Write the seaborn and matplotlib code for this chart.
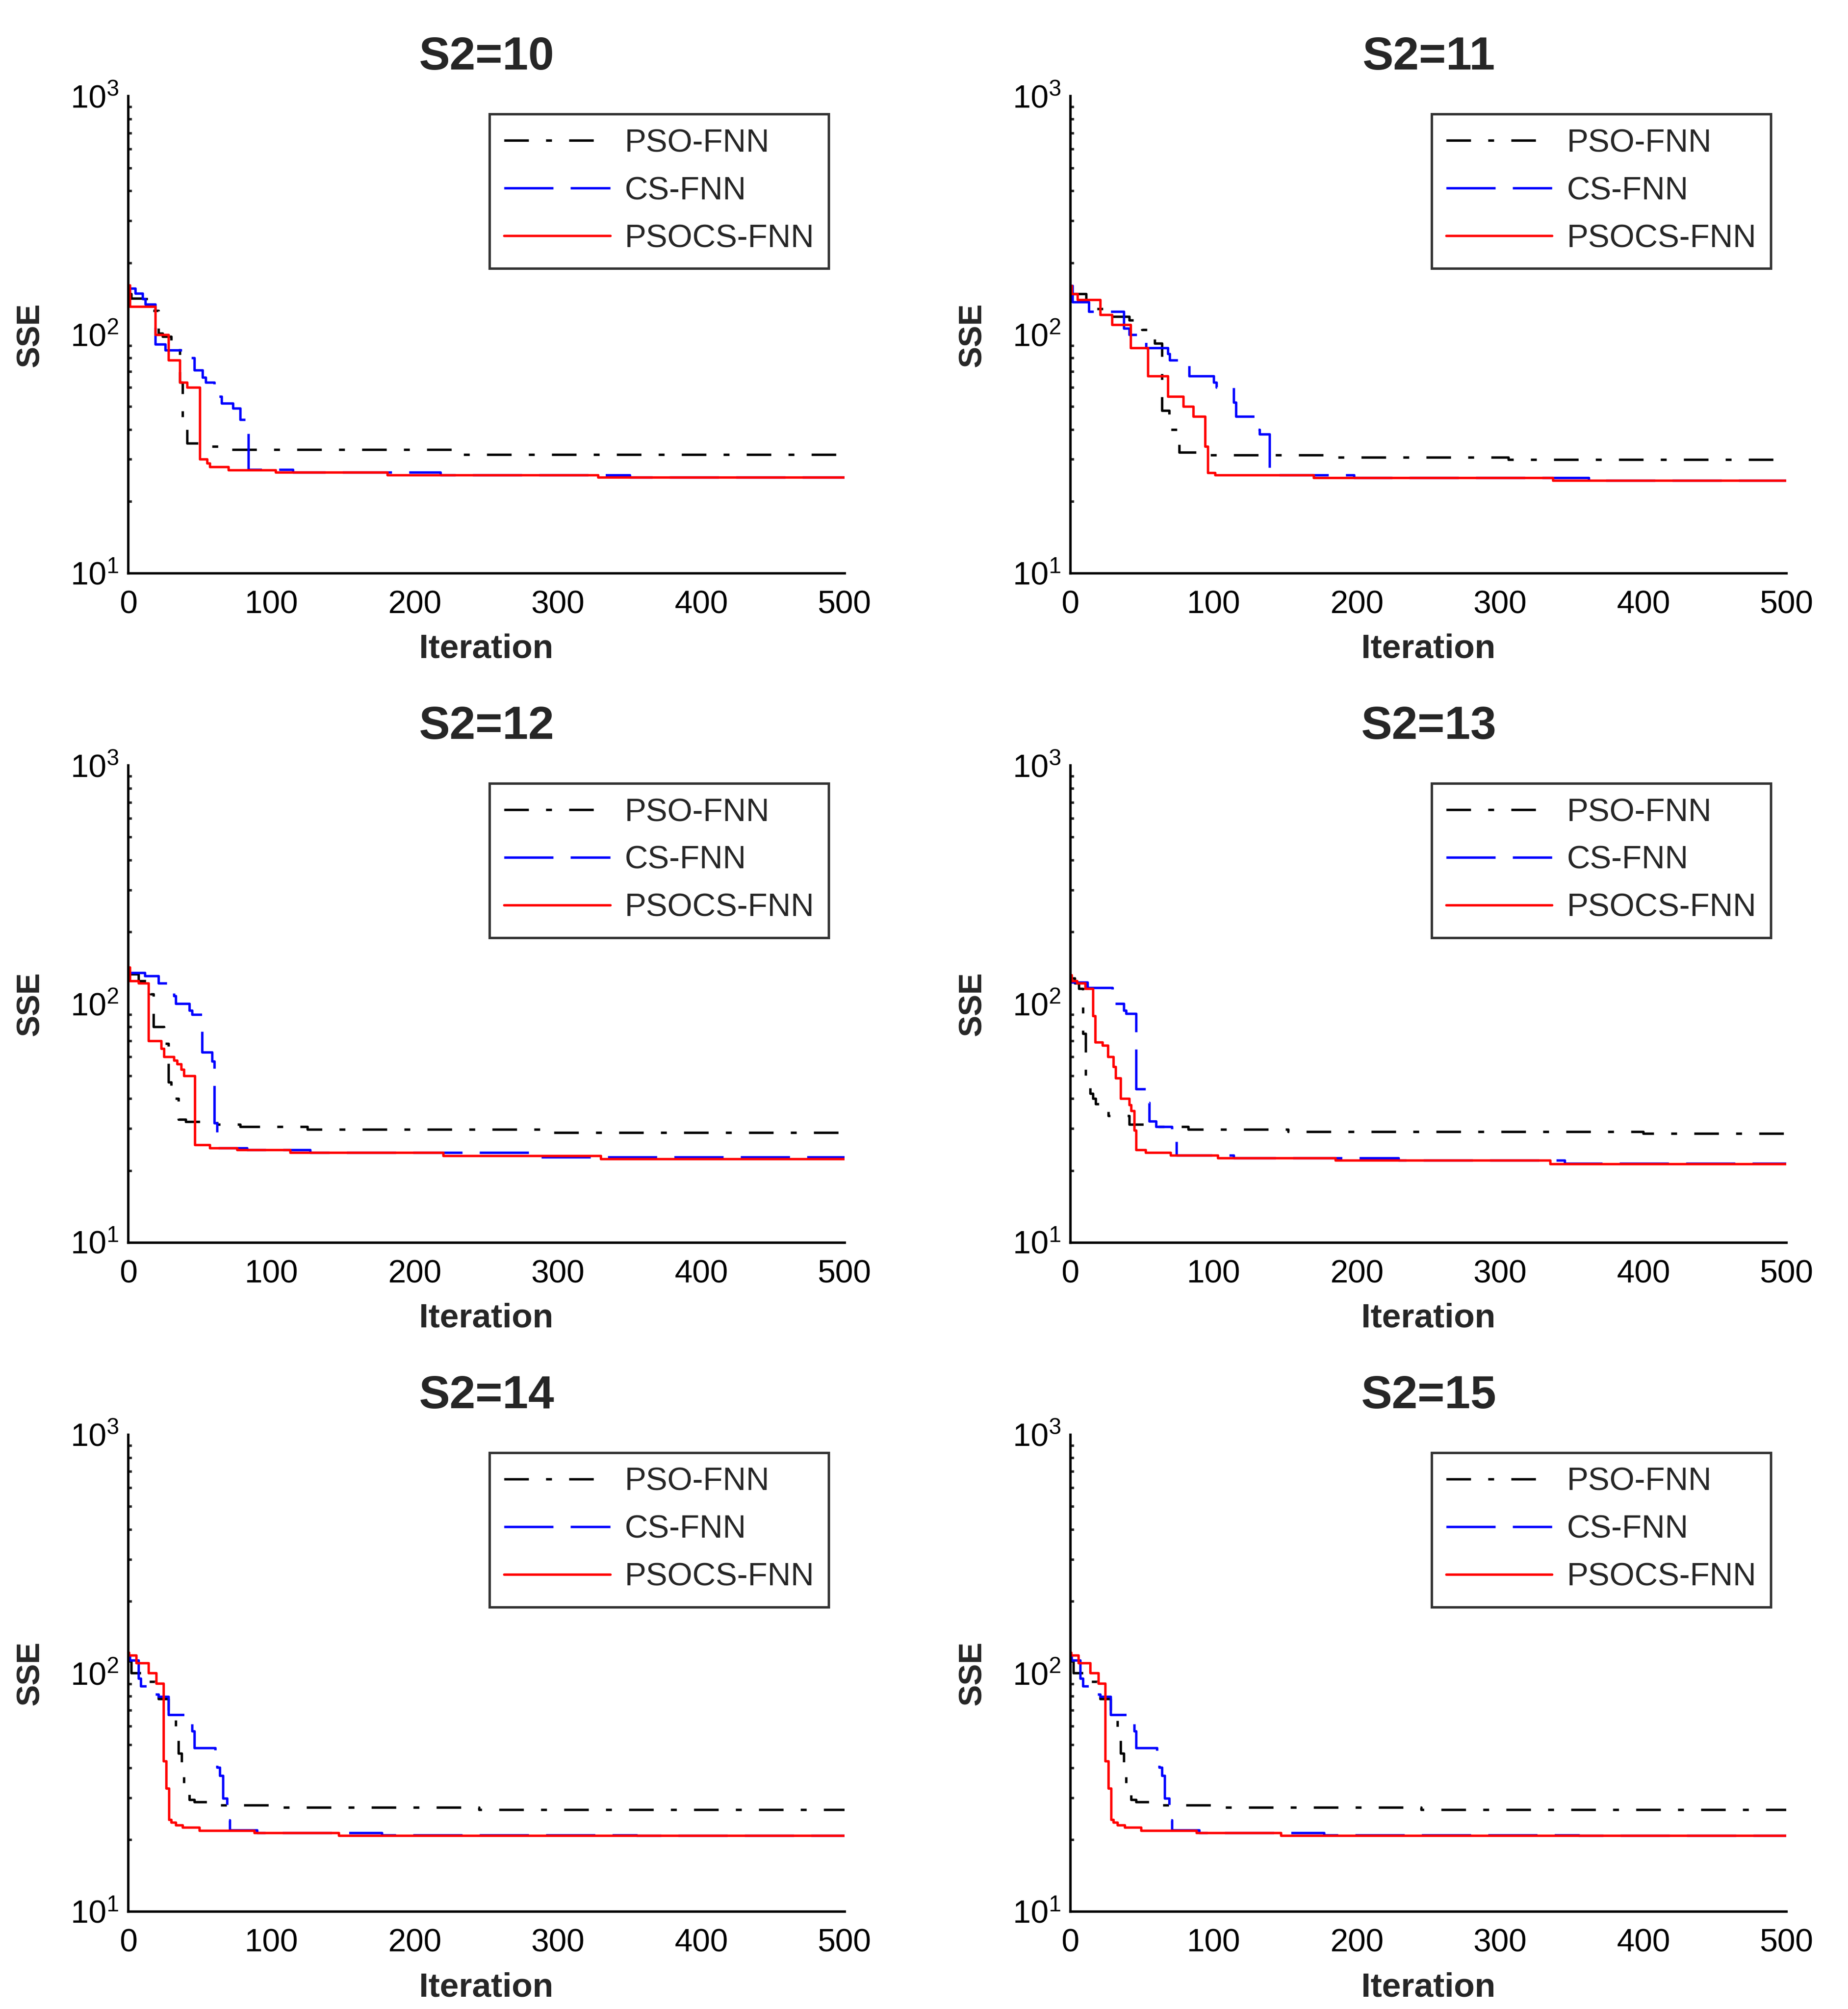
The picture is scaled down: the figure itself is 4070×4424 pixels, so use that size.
import numpy as np
import pandas as pd
import seaborn as sns
import matplotlib
matplotlib.use('Agg')
from matplotlib import pyplot as plt
from matplotlib.ticker import FixedLocator, LogLocator, FuncFormatter, NullLocator

titles = ['S2=10', 'S2=11', 'S2=12', 'S2=13', 'S2=14', 'S2=15']
methods = ['PSO-FNN', 'CS-FNN', 'PSOCS-FNN']
colors = {'PSO-FNN': 'black', 'CS-FNN': '#0000ff', 'PSOCS-FNN': '#ff0000'}
dash_seq = {'PSO-FNN': (10, 7, 2.4, 7), 'CS-FNN': (20, 7), 'PSOCS-FNN': None}

# convergence curves (iteration where the best SSE changes, SSE after the change)
# S2=10
pso_x_10 = [0, 2, 10, 15, 21, 24, 30, 36, 38, 41, 54, 70, 232, 500]
pso_y_10 = [148, 142, 141, 126, 101, 98, 87, 63, 45, 35, 33.9, 33, 31.4, 31.4]
cs_x_10 = [0, 5, 10, 12, 19, 26, 40, 46, 52, 54, 60, 65, 73, 78, 84, 115, 218, 350, 500]
cs_y_10 = [156, 149, 141, 134, 91, 86, 80, 71, 66, 63, 55, 51.5, 49, 44, 27.2, 26.4, 25.8, 25.2, 25.2]
psocs_x_10 = [0, 1, 19, 28, 36, 41, 50, 55, 57, 70, 103, 181, 328, 500]
psocs_y_10 = [161, 131, 100, 78, 63, 60, 30, 28.9, 27.9, 27.1, 26.4, 25.8, 25.2, 25.2]

# S2=11
pso_x_11 = [0, 11, 18, 29, 41, 50, 59, 64, 69, 75, 76, 94, 178, 306, 500]
pso_y_11 = [148, 135, 128, 119, 115, 105, 92, 48, 40, 35, 32.1, 31.3, 30.6, 29.9, 29.9]
cs_x_11 = [0, 1.5, 13, 37.5, 41, 53, 68, 69.5, 83, 100, 102, 114, 115.5, 130, 132, 139, 198, 362, 500]
cs_y_11 = [160, 137, 125, 106, 100, 88, 83, 78, 67, 63, 60, 52, 45.4, 40, 38.2, 25.8, 25.1, 24.4, 24.4]
psocs_x_11 = [0, 1, 5, 21, 29, 42, 54, 68, 79, 86, 94, 96, 101, 170, 337, 500]
psocs_y_11 = [160, 148, 140, 121, 110, 88, 67, 55, 50, 45.4, 34, 26.3, 25.8, 25.1, 24.4, 24.4]

# S2=12
pso_x_12 = [0, 7, 15.6, 17.6, 25, 28, 30, 35, 40, 62, 78, 125, 294, 500]
pso_y_12 = [133, 125, 110, 80, 68, 47, 40, 32.8, 32.0, 31.2, 30.5, 29.7, 28.8, 28.8]
cs_x_12 = [0, 11.5, 21, 32, 33, 42.5, 44.5, 51.5, 58.6, 60, 62, 83, 127, 288, 500]
cs_y_12 = [135, 131, 122, 108, 100, 94, 90, 62.7, 57.5, 31.7, 24.9, 24.4, 23.8, 22.8, 22.8]
psocs_x_12 = [0, 1, 7, 14, 23, 25, 32, 34, 37, 39, 46.5, 57, 76, 113, 220, 330, 500]
psocs_y_12 = [142, 125, 122, 70, 65, 60, 58, 56, 53, 50, 25.6, 24.9, 24.4, 23.8, 23.1, 22.4, 22.4]

# S2=13
pso_x_13 = [0, 3, 6, 8.7, 10.7, 14, 15.8, 17.8, 26.5, 41, 55, 82.5, 152, 400, 500]
pso_y_13 = [128, 122, 116, 75, 50, 42, 40, 38, 34, 31.2, 30.5, 29.8, 29.1, 28.6, 28.6]
cs_x_13 = [0, 12, 29.5, 37.4, 39, 46, 53, 55, 60, 71, 74, 114, 229, 345, 500]
cs_y_13 = [123, 117, 100, 94, 91, 44, 38.5, 32.2, 30.5, 27, 23.2, 22.6, 22.1, 21.4, 21.4]
psocs_x_13 = [0, 1, 4.6, 10.3, 15.8, 17.4, 22.4, 26.3, 30, 31.5, 35, 41, 42.5, 44.5, 46, 52.6, 70, 103, 185, 335, 500]
psocs_y_13 = [132, 125, 122, 116, 89, 69, 67, 60, 54.5, 48.8, 40, 37.7, 35.6, 29.5, 24.4, 23.8, 23.2, 22.6, 22.1, 21.3, 21.3]

# S2=14
pso_x_14 = [0, 2, 9, 19, 21, 28, 33, 35, 37.4, 39, 42.5, 46, 64, 106, 245, 500]
pso_y_14 = [112, 100, 92, 83, 77.8, 63.5, 53, 46, 37, 31.5, 29.5, 28.8, 28.0, 27.3, 26.7, 26.7]
cs_x_14 = [0, 1, 7, 8.7, 15.6, 21, 28, 44.5, 46, 60.6, 62, 64, 66, 69, 71, 90, 177, 355, 500]
cs_y_14 = [118.6, 113, 95, 88, 81.6, 79.7, 67, 57, 48.5, 42.3, 40.2, 37.2, 29.9, 24.2, 22.0, 21.4, 20.9, 20.8, 20.8]
psocs_x_14 = [0, 0.6, 5.5, 14, 19.6, 24.5, 26.5, 28.5, 30, 33, 38, 49.5, 88, 147, 500]
psocs_y_14 = [122, 119, 110, 100, 90.5, 42.8, 32.9, 24.3, 23.7, 23.0, 22.5, 21.9, 21.4, 20.8, 20.8]

# S2=15
pso_x_15 = [0, 2, 9, 19, 21, 28, 33, 35, 37.4, 39, 42.5, 46, 64, 106, 245, 500]
pso_y_15 = [112, 100, 92, 83, 77.8, 63.5, 53, 46, 37, 31.5, 29.5, 28.8, 28.0, 27.3, 26.7, 26.7]
cs_x_15 = [0, 1, 7, 8.7, 15.6, 21, 28, 44.5, 46, 60.6, 62, 64, 66, 69, 71, 90, 177, 355, 500]
cs_y_15 = [118.6, 113, 95, 88, 81.6, 79.7, 67, 57, 48.5, 42.3, 40.2, 37.2, 29.9, 24.2, 22.0, 21.4, 20.9, 20.8, 20.8]
psocs_x_15 = [0, 0.6, 5.5, 14, 19.6, 24.5, 26.5, 28.5, 30, 33, 38, 49.5, 88, 147, 500]
psocs_y_15 = [122, 119, 110, 100, 90.5, 42.8, 32.9, 24.3, 23.7, 23.0, 22.5, 21.9, 21.4, 20.8, 20.8]

curves = [
    [(pso_x_10, pso_y_10), (cs_x_10, cs_y_10), (psocs_x_10, psocs_y_10)],
    [(pso_x_11, pso_y_11), (cs_x_11, cs_y_11), (psocs_x_11, psocs_y_11)],
    [(pso_x_12, pso_y_12), (cs_x_12, cs_y_12), (psocs_x_12, psocs_y_12)],
    [(pso_x_13, pso_y_13), (cs_x_13, cs_y_13), (psocs_x_13, psocs_y_13)],
    [(pso_x_14, pso_y_14), (cs_x_14, cs_y_14), (psocs_x_14, psocs_y_14)],
    [(pso_x_15, pso_y_15), (cs_x_15, cs_y_15), (psocs_x_15, psocs_y_15)],
]

sns.set_theme(style='white')
plt.rcParams['font.family'] = ['Liberation Sans', 'DejaVu Sans']
plt.rcParams['mathtext.default'] = 'regular'
plt.rcParams['axes.edgecolor'] = 'black'

fig, axes = plt.subplots(3, 2, figsize=(4070 / 300, 4424 / 300), dpi=300)
fig.subplots_adjust(left=0.0694, right=0.9667, bottom=0.0485, top=0.9522,
                    wspace=0.3154, hspace=0.403)


def log_label(v, pos):
    return r'$\mathregular{10^{%d}}$' % int(round(np.log10(v)))


for ax, title, panel in zip(axes.flat, titles, curves):
    for method, (xs, ys) in zip(methods, panel):
        df = pd.DataFrame({'Iteration': xs, 'SSE': ys})
        sns.lineplot(data=df, x='Iteration', y='SSE', ax=ax, color=colors[method],
                     linewidth=1.3, drawstyle='steps-post', label=method)
        line = ax.lines[-1]
        if dash_seq[method] is not None:
            line.set_dashes(dash_seq[method])

    ax.set_yscale('log')
    ax.set_ylim(10, 1000)
    ax.set_xlim(0, 500)
    ax.xaxis.set_major_locator(FixedLocator([0, 100, 200, 300, 400, 500]))
    ax.xaxis.set_minor_locator(NullLocator())
    ax.yaxis.set_major_locator(FixedLocator([10, 100, 1000]))
    ax.yaxis.set_minor_locator(LogLocator(base=10, subs=np.arange(2, 10)))
    ax.yaxis.set_major_formatter(FuncFormatter(log_label))
    ax.tick_params(axis='both', which='major', direction='in', length=4, width=1.3,
                   labelsize=17, colors='black')
    ax.tick_params(axis='x', which='major', pad=9)
    ax.tick_params(axis='y', which='major', pad=5)
    ax.tick_params(axis='y', which='minor', direction='in', length=2, width=1.3, left=True)

    sns.despine(ax=ax)
    for side in ['left', 'bottom']:
        ax.spines[side].set_linewidth(1.3)
        ax.spines[side].set_color('black')

    ax.set_title(title, fontsize=24.5, fontweight='bold', pad=14)
    ax.set_xlabel('Iteration', fontsize=18, fontweight='bold', labelpad=7)
    ax.set_ylabel('SSE', fontsize=17, fontweight='bold', labelpad=13)

    leg = ax.legend(loc='upper right', bbox_to_anchor=(0.978, 0.962), borderaxespad=0,
                    fontsize=17, frameon=True, fancybox=False, handlelength=3.3,
                    handletextpad=0.45, labelspacing=0.55, borderpad=0.45)
    leg.get_frame().set_edgecolor('black')
    leg.get_frame().set_linewidth(1.3)

fig.savefig('out.png', dpi=300, facecolor='white')
